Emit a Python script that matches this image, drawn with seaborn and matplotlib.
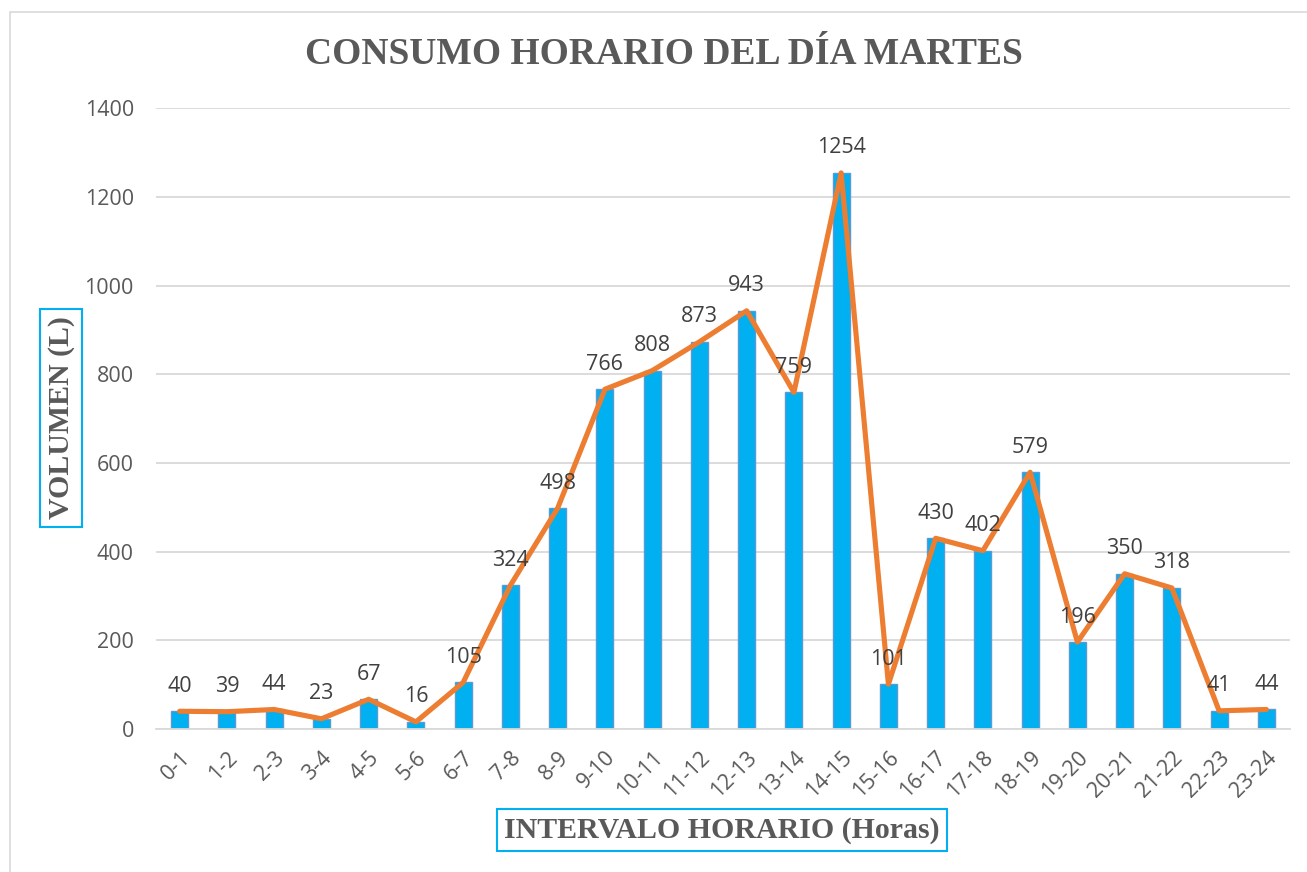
import matplotlib
matplotlib.use("Agg")
import matplotlib.pyplot as plt
from matplotlib.patches import Rectangle
import seaborn as sns
import numpy as np

intervals = ["0-1", "1-2", "2-3", "3-4", "4-5", "5-6", "6-7", "7-8", "8-9", "9-10",
             "10-11", "11-12", "12-13", "13-14", "14-15", "15-16", "16-17", "17-18",
             "18-19", "19-20", "20-21", "21-22", "22-23", "23-24"]
volumes = [40, 39, 44, 23, 67, 16, 105, 324, 498, 766, 808, 873, 943, 759, 1254,
           101, 430, 402, 579, 196, 350, 318, 41, 44]
y_ticks = [0, 200, 400, 600, 800, 1000, 1200, 1400]

sns.set_style("white")
plt.rcParams["font.family"] = ["Open Sans", "DejaVu Sans"]

BAR = "#00B0F0"
LINE = "#ED7D31"
GRID = "#D9D9D9"
TXT = "#595959"

fig = plt.figure(figsize=(13.07, 8.72), dpi=100)
ax = fig.add_axes([0.1194, 0.164, 0.8676, 0.712])

sns.barplot(x=intervals, y=volumes, color=BAR, width=0.36, edgecolor="#5B9BD5",
            linewidth=1, saturation=1, ax=ax, zorder=2)
sns.lineplot(x=np.arange(len(volumes)), y=volumes, color=LINE, linewidth=3.7,
             ax=ax, zorder=3)

# data labels above each bar
for i, v in enumerate(volumes):
    ax.annotate(str(v), (i, v), xytext=(0, 18), textcoords="offset points",
                ha="center", va="center", fontsize=15.5, color="#404040", zorder=4)

ax.set_ylim(0, 1400)
ax.set_xlim(-0.5, len(intervals) - 0.5)
ax.set_yticks(y_ticks)
ax.set_yticklabels([str(t) for t in y_ticks])
ax.yaxis.grid(True, color=GRID, linewidth=1.3, zorder=0)
ax.set_axisbelow(True)
for s in ["top", "right", "left"]:
    ax.spines[s].set_visible(False)
ax.spines["bottom"].set_color(GRID)
ax.spines["bottom"].set_linewidth(1.3)
ax.tick_params(axis="y", length=0, pad=16, labelsize=15.5, labelcolor=TXT)
ax.tick_params(axis="x", length=0, pad=13, labelsize=15.5, labelcolor=TXT)
plt.setp(ax.get_xticklabels(), rotation=45, ha="right", rotation_mode="anchor")
ax.set_xlabel("")
ax.set_ylabel("")

fig.text(0.508, 0.937, "CONSUMO HORARIO DEL DÍA MARTES", ha="center", va="center",
         fontsize=27, fontweight="bold", color=TXT, family="Liberation Serif")
fig.text(0.0467, 0.521, "VOLUMEN (L)", ha="center", va="center", rotation=90,
         fontsize=21.5, fontweight="bold", color=TXT, family="Liberation Serif",
         bbox=dict(boxstyle="square,pad=0.25", facecolor="white", edgecolor=BAR, linewidth=1.5))
fig.text(0.5525, 0.048, "INTERVALO HORARIO (Horas)", ha="center", va="center",
         fontsize=21.5, fontweight="bold", color=TXT, family="Liberation Serif",
         bbox=dict(boxstyle="square,pad=0.25", facecolor="white", edgecolor=BAR, linewidth=1.5))

# outer chart border
fig.patches.append(Rectangle((10 / 1307, -0.01), 1.02, 1 - 12 / 872 + 0.01,
                             transform=fig.transFigure, fill=False,
                             edgecolor="#D9D9D9", linewidth=1.2))

fig.savefig("out.png", dpi=100)
plt.close(fig)
